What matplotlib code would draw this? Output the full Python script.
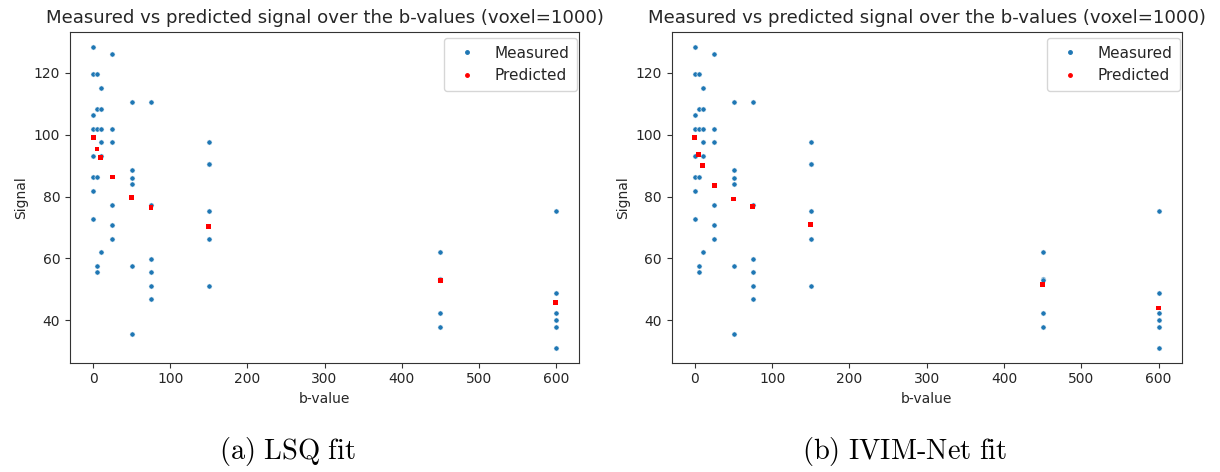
import matplotlib
matplotlib.use("Agg")
import matplotlib.pyplot as plt
from matplotlib.lines import Line2D

plt.rcParams['mathtext.fontset'] = 'cm'

# measured signal (same in both panels)
meas_b = ([0]*8 + [5]*6 + [10]*6 + [25]*6 + [50]*6 + [75]*6 +
          [150]*6 + [450]*5 + [600]*6)
meas_s = [128.4, 119.6, 106.3, 101.9, 93.1, 86.3, 81.7, 72.9,
          119.6, 108.2, 101.9, 86.3, 57.7, 55.7,
          115.2, 108.2, 101.9, 97.5, 93.1, 62.1,
          125.9, 101.9, 97.5, 77.3, 70.9, 66.4,
          110.7, 88.6, 86.1, 84.1, 57.7, 35.6,
          110.7, 77.3, 59.7, 55.7, 51.2, 46.8,
          97.5, 90.6, 90.4, 75.3, 66.4, 51.2,
          62.0, 53.4, 53.1, 42.4, 38.0,
          75.2, 48.8, 42.4, 40.0, 38.0, 31.2]

pred_b = [0, 5, 10, 25, 50, 75, 150, 450, 600]
pred_lsq = [99.0, 95.4, 92.6, 86.3, 79.7, 76.4, 70.4, 52.8, 45.8]
pred_net = [99.0, 93.6, 90.0, 83.7, 79.2, 76.7, 70.9, 51.7, 44.0]

title = "Measured vs predicted signal over the b-values (voxel=1000)"
captions = [r"$\mathrm{(a)\ LSQ\ fit}$", r"$\mathrm{(b)\ IVIM\text{-}Net\ fit}$"]
cap_x = [287/1220, 905/1220]

txt = '#262626'
fig = plt.figure(figsize=(12.2, 4.72), dpi=100)
axes_pos = [[70/1220, 1-362.7/472, 509/1220, 331/472],
            [671.7/1220, 1-362.7/472, 510/1220, 331/472]]

for pos, pred, cap, cx in zip(axes_pos, [pred_lsq, pred_net], captions, cap_x):
    ax = fig.add_axes(pos)
    ax.scatter(meas_b, meas_s, s=14, color='#1f77b4', edgecolors='white',
               linewidths=0.4, zorder=2)
    ax.scatter(pred_b, pred, s=12, marker='s', color='red', edgecolors='none',
               zorder=3)
    ax.set_title(title, fontsize=13.1, pad=6, color=txt)
    ax.set_xlabel("b-value", fontsize=10, color=txt)
    ax.set_ylabel("Signal", fontsize=10, color=txt)
    ax.tick_params(labelsize=10, labelcolor=txt, color='#333333')
    for sp in ax.spines.values():
        sp.set_color('#333333')
    ax.set_xticks([0, 100, 200, 300, 400, 500, 600])
    ax.set_yticks([40, 60, 80, 100, 120])
    handles = [Line2D([], [], ls='none', marker='.', markersize=5, color='#1f77b4'),
               Line2D([], [], ls='none', marker='.', markersize=5, color='red')]
    leg = ax.legend(handles, ["Measured", "Predicted"], loc='upper right',
                    bbox_to_anchor=(0.996, 0.981), borderaxespad=0,
                    fontsize=11, handletextpad=0.8, borderpad=0.5)
    for t in leg.get_texts():
        t.set_color(txt)
    fig.text(cx, 1 - 452/472, cap, ha='center', va='center', fontsize=20.5)

fig.savefig("out.png", dpi=100)
